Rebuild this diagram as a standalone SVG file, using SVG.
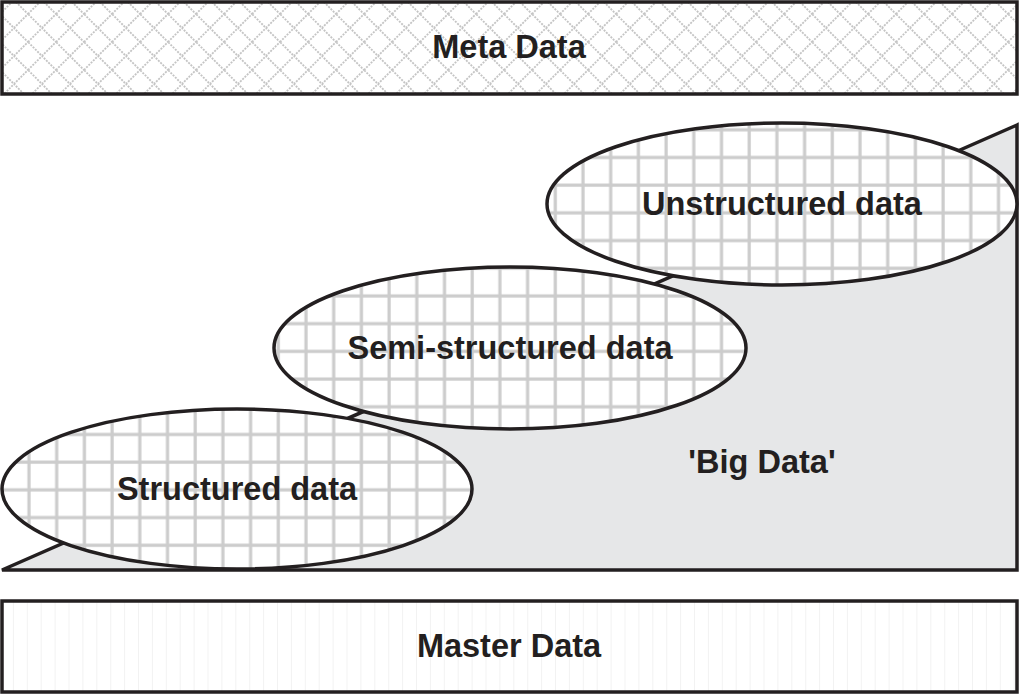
<svg xmlns="http://www.w3.org/2000/svg" width="1019" height="696" viewBox="0 0 1019 696">
<defs>
<pattern id="grid" patternUnits="userSpaceOnUse" x="15" y="5" width="27.7" height="27.7">
<rect width="27.7" height="27.7" fill="#fff"/>
<path d="M14 0V27.7M0 14H27.7" stroke="#cccccc" stroke-width="3.2"/>
</pattern>
<pattern id="diam" patternUnits="userSpaceOnUse" x="0" y="0" width="28" height="28">
<rect width="28" height="28" fill="#fff"/>
<path d="M0 14L14 0L28 14L14 28Z" fill="none" stroke="#c4c4c4" stroke-width="1.8" stroke-dasharray="2 1.2"/>
</pattern>
<pattern id="vert" patternUnits="userSpaceOnUse" x="0" y="0" width="13.9" height="20">
<rect width="13.9" height="20" fill="#fff"/>
<path d="M15 0V20" stroke="#d6d6d6" stroke-width="2.8"/>
</pattern>
<style>
.box{stroke:#231f20;stroke-width:3.5}
.ell{fill:url(#grid);stroke:#231f20;stroke-width:3.5}
.t{font-family:"Liberation Sans",Arial,sans-serif;font-weight:bold;font-size:32.5px;fill:#231f20;text-anchor:middle}
</style>
</defs>
<g id="meta">
<rect class="box" x="2" y="2" width="1015" height="92" fill="url(#diam)"/>
<text class="t" x="509" y="58">Meta Data</text>
</g>
<g id="bigdata">
<path d="M2 570L1017 125V570Z" fill="#e6e7e8" stroke="#231f20" stroke-width="3.5" stroke-linejoin="miter"/>
<text class="t" x="762" y="473">'Big Data'</text>
</g>
<g id="structured">
<ellipse class="ell" cx="237" cy="489" rx="235" ry="80"/>
<text class="t" x="237" y="500">Structured data</text>
</g>
<g id="semi">
<ellipse class="ell" cx="510" cy="348" rx="236" ry="81"/>
<text class="t" x="510" y="359">Semi-structured data</text>
</g>
<g id="unstructured">
<ellipse class="ell" cx="782" cy="204" rx="235" ry="81"/>
<text class="t" x="782" y="215">Unstructured data</text>
</g>
<g id="master">
<rect class="box" x="2" y="601" width="1015" height="91" fill="url(#vert)"/>
<text class="t" x="509" y="657">Master Data</text>
</g>
<g id="connectors"/>
</svg>
